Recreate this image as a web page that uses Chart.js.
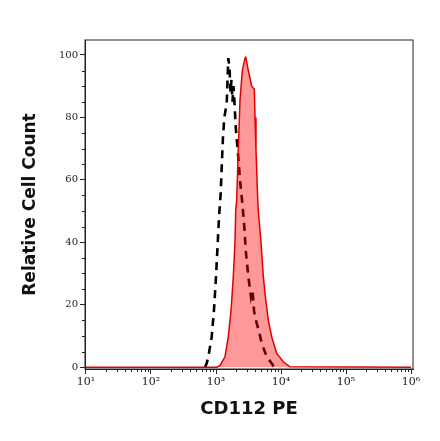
<!DOCTYPE html>
<html>
<head>
<meta charset="utf-8">
<script src="https://cdn.jsdelivr.net/npm/chart.js@4/dist/chart.umd.min.js"></script>
<style>
  body { margin: 0; background: #fff; }
</style>
</head>
<body>
<canvas id="histChart" width="440" height="441"></canvas>
<script>
// stained sample (red filled histogram)
const stainedX = [10, 1035, 1148, 1374, 1545, 1702, 1845, 1959, 2009, 2080, 2203, 2339, 2541, 2793, 2864,
  3141, 3540, 3882, 3981, 4121, 4385, 4477, 4920, 5346, 5821, 6383, 7194, 8590, 10839, 13740, 1000000];
const stainedY = [0, 0, 0.5, 3.3, 9.7, 18, 29, 40, 50, 53.5, 69.5, 85.6, 95, 99, 99.5,
  95, 90, 89, 80, 69.5, 53.5, 50, 40, 29, 21.5, 15, 9.7, 4.4, 1.7, 0.1, 0];

// isotype control (black dashed)
const controlX = [678, 719, 762, 859, 931, 1000, 1062, 1112, 1181, 1224, 1282, 1343, 1462, 1503, 1545,
  1614, 1671, 1730, 1794, 1858, 1914, 2009, 2158, 2339, 2541, 2723, 2864, 3141, 3451, 3648,
  3846, 4227, 4592, 5047, 6026, 7194, 7798];
const controlY = [0, 1.2, 3.3, 9.7, 18.3, 29, 39.6, 48, 55.7, 64, 74, 80, 84.5, 92, 99,
  96, 88, 92, 85, 90, 85.6, 77, 69.5, 60, 52.5, 45, 37.5, 29, 22.5, 24.7,
  18, 14, 11.5, 7.6, 3.3, 1.2, 0];

const xTickExps = [1, 2, 3, 4, 5, 6];
const yTicks = [0, 20, 40, 60, 80, 100];

const sup = ['\u2070', '\u00b9', '\u00b2', '\u00b3', '\u2074', '\u2075', '\u2076'];

// frame + minor ticks
const framePlugin = {
  id: 'frame',
  afterDraw(chart) {
    const { ctx, chartArea: a, scales } = chart;
    ctx.save();
    ctx.strokeStyle = '#222';
    ctx.lineWidth = 1;
    ctx.strokeRect(a.left, a.top, a.right - a.left, a.bottom - a.top);
    ctx.beginPath();
    for (let e = 0; e < 6; e++) {
      for (let m = 2; m <= 9; m++) {
        const v = m * Math.pow(10, e);
        if (v < scales.x.min || v > scales.x.max) continue;
        const px = Math.round(scales.x.getPixelForValue(v)) + 0.5;
        ctx.moveTo(px, a.bottom);
        ctx.lineTo(px, a.bottom + 3);
      }
    }
    for (let v = 5; v <= 100; v += 5) {
      if (v % 20 === 0) continue;
      const py = Math.round(scales.y.getPixelForValue(v)) + 0.5;
      ctx.moveTo(a.left - 3, py);
      ctx.lineTo(a.left, py);
    }
    ctx.stroke();
    ctx.restore();
  }
};

const ctx = document.getElementById('histChart').getContext('2d');
const histChart = new Chart(ctx, {
  type: 'line',
  data: {
    datasets: [
      {
        data: controlX.map((x, i) => ({ x: x, y: controlY[i] })),
        borderColor: '#000',
        borderWidth: 2.6,
        borderDash: [8, 6],
        pointRadius: 0,
        fill: false,
        order: 1,
      },
      {
        data: stainedX.map((x, i) => ({ x: x, y: stainedY[i] })),
        borderColor: '#e00000',
        borderWidth: 1.5,
        backgroundColor: 'rgba(255, 0, 0, 0.4)',
        pointRadius: 0,
        fill: 'origin',
        order: 0,
      },
    ],
  },
  options: {
    responsive: false,
    animation: false,
    layout: { padding: { top: 40, right: 27, left: 20, bottom: 21 } },
    plugins: {
      legend: { display: false },
      tooltip: { enabled: false },
    },
    scales: {
      x: {
        type: 'logarithmic',
        min: Math.pow(10, 0.985),
        max: Math.pow(10, 6.03),
        afterBuildTicks: (s) => { s.ticks = xTickExps.map(e => ({ value: Math.pow(10, e) })); },
        afterFit: (s) => { s.height = 51; },
        ticks: {
          color: '#222',
          font: { family: 'DejaVu Serif', size: 11 },
          padding: 2,
          maxRotation: 0,
          autoSkip: false,
          callback: (v) => '10' + sup[Math.round(Math.log10(v))],
        },
        grid: { drawOnChartArea: false, tickLength: 5, color: '#222' },
        border: { color: '#222' },
        title: {
          display: true,
          text: 'CD112 PE',
          color: '#111',
          font: { family: 'DejaVu Sans', size: 18, weight: 'bold' },
          padding: { top: 0, bottom: 0 },
        },
      },
      y: {
        min: -0.6,
        max: 104.8,
        afterBuildTicks: (s) => { s.ticks = yTicks.map(v => ({ value: v })); },
        afterFit: (s) => { s.width = 65; },
        ticks: {
          color: '#222',
          font: { family: 'DejaVu Serif', size: 10 },
          padding: 2,
        },
        grid: { drawOnChartArea: false, tickLength: 5, color: '#222' },
        border: { color: '#222' },
        title: {
          display: true,
          text: 'Relative Cell Count',
          color: '#111',
          font: { family: 'DejaVu Sans', size: 17, weight: 'bold' },
          padding: { top: 0, bottom: 0 },
        },
      },
    },
  },
  plugins: [framePlugin],
});
</script>
</body>
</html>
